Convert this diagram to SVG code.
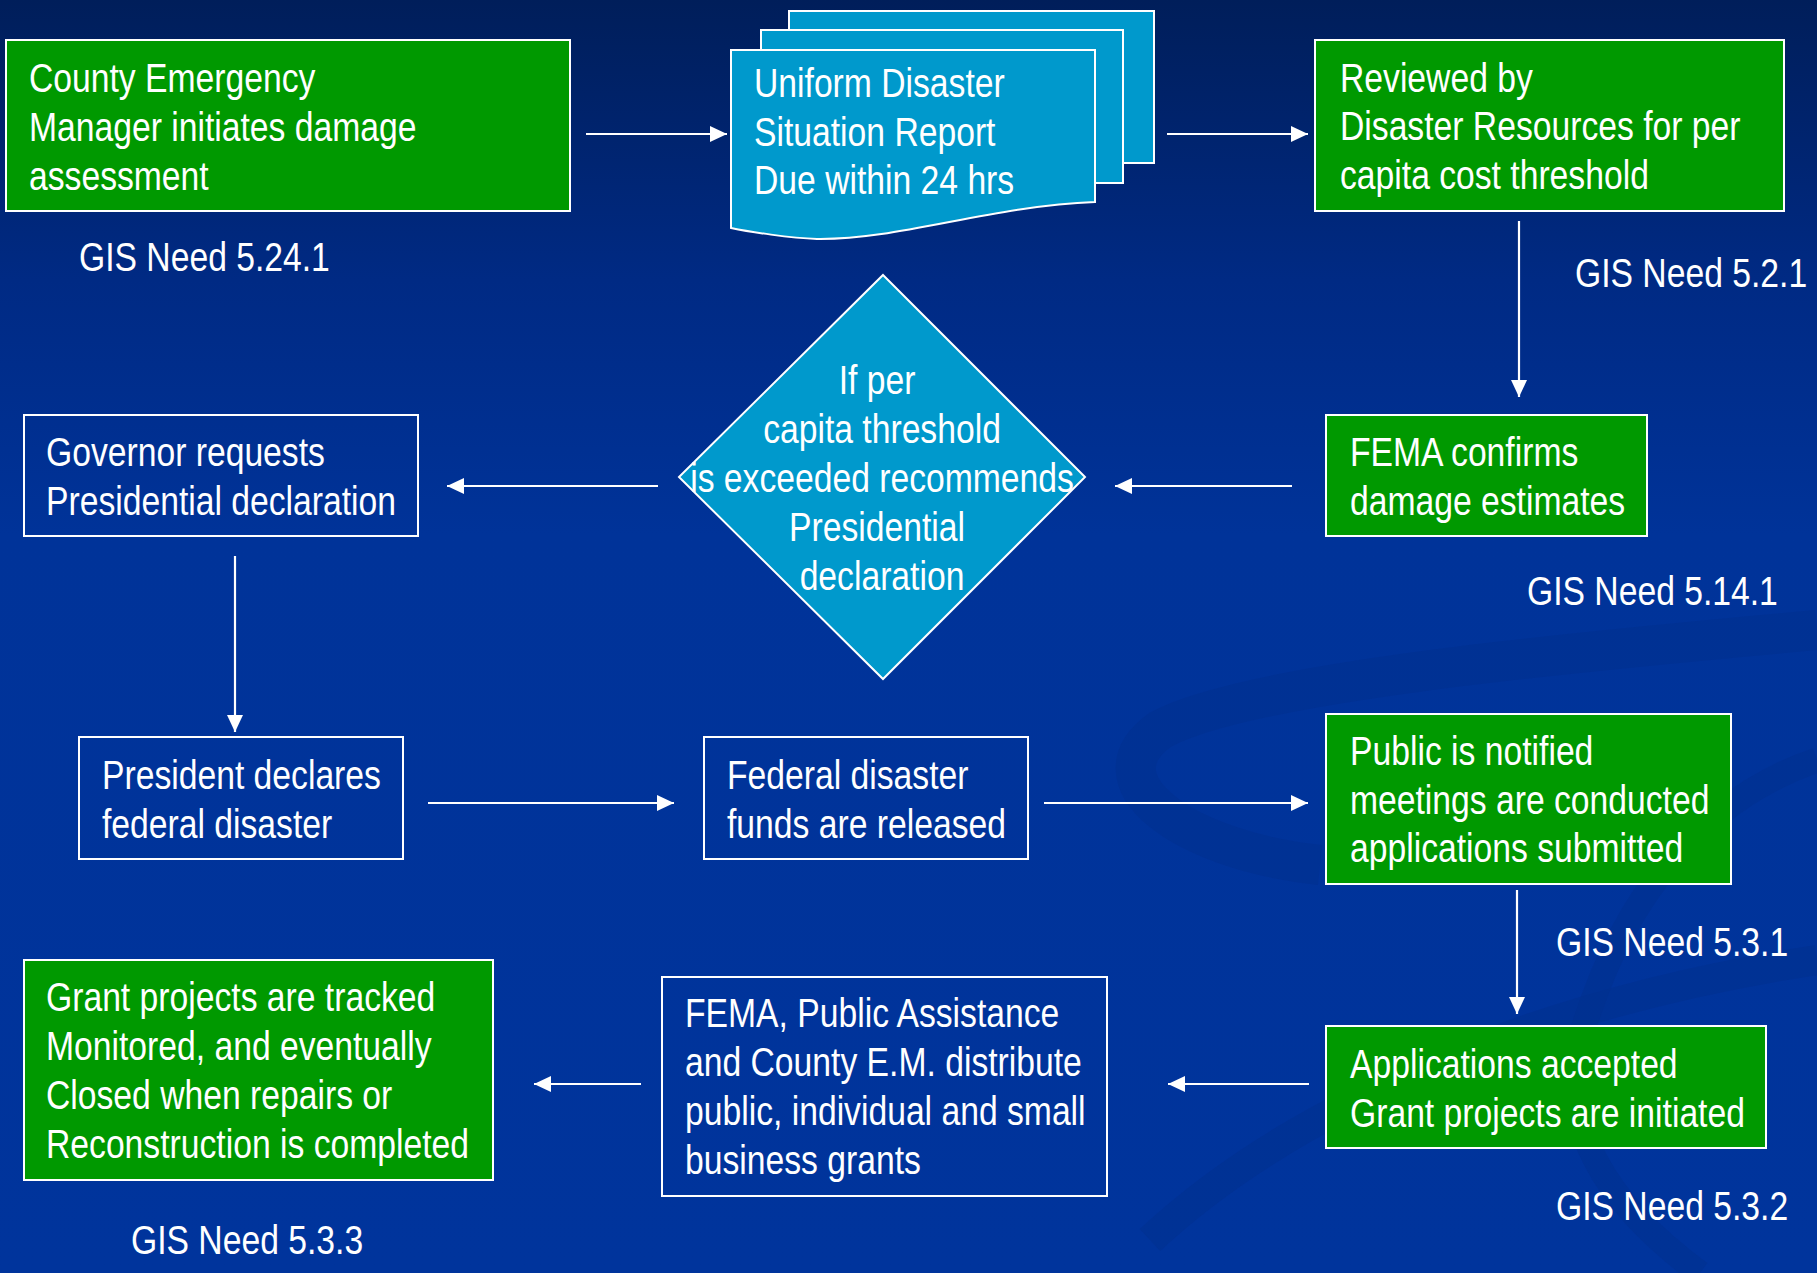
<svg xmlns="http://www.w3.org/2000/svg" width="1817" height="1273" viewBox="0 0 1817 1273">
  <defs>
    <linearGradient id="bg" x1="0" y1="0" x2="0" y2="1">
      <stop offset="0" stop-color="#001e5a"/>
      <stop offset="0.22" stop-color="#002a84"/>
      <stop offset="0.42" stop-color="#003399"/>
      <stop offset="1" stop-color="#00349c"/>
    </linearGradient>
    <marker id="head" viewBox="0 0 18 18" refX="17" refY="9" markerWidth="18" markerHeight="18" markerUnits="userSpaceOnUse" orient="auto">
      <path d="M0,1 L17,9 L0,17 Z" fill="#ffffff"/>
    </marker>
    <style>
      .lbl { font-family: "Liberation Sans", Arial, sans-serif; font-size: 40px; fill: #ffffff; }
      .mid { text-anchor: middle; }
      .green { fill: #009900; stroke: #ffffff; stroke-width: 2; }
      .open { fill: none; stroke: #ffffff; stroke-width: 2; }
      .doc { fill: #0099cc; stroke: #ffffff; stroke-width: 2; }
      .conn { stroke: #ffffff; stroke-width: 2.2; fill: none; marker-end: url(#head); }
      .swirl { fill: none; stroke: #002f8e; opacity: 0.5; }
    </style>
  </defs>

  <!-- background -->
  <rect x="0" y="0" width="1817" height="1273" fill="url(#bg)"/>
  <g id="backdrop">
    <path class="swirl" stroke-width="40" d="M1817,630 C1600,650 1250,680 1160,730 C1090,780 1180,850 1320,865"/>
    <path class="swirl" stroke-width="30" d="M1150,1240 C1300,1100 1550,1000 1817,960"/>
    <path class="swirl" stroke-width="25" d="M1817,760 C1700,800 1620,900 1580,1040 C1560,1120 1600,1200 1700,1273"/>
  </g>

  <!-- connectors -->
  <g id="connectors">
    <line class="conn" x1="586" y1="134" x2="727" y2="134"/>
    <line class="conn" x1="1167" y1="134" x2="1308" y2="134"/>
    <line class="conn" x1="1519" y1="221" x2="1519" y2="397"/>
    <line class="conn" x1="1292" y1="486" x2="1115" y2="486"/>
    <line class="conn" x1="658" y1="486" x2="447" y2="486"/>
    <line class="conn" x1="235" y1="556" x2="235" y2="732"/>
    <line class="conn" x1="428" y1="803" x2="674" y2="803"/>
    <line class="conn" x1="1044" y1="803" x2="1308" y2="803"/>
    <line class="conn" x1="1517" y1="890" x2="1517" y2="1014"/>
    <line class="conn" x1="1309" y1="1084" x2="1168" y2="1084"/>
    <line class="conn" x1="641" y1="1084" x2="534" y2="1084"/>
  </g>

  <!-- County Emergency Manager -->
  <g id="county">
    <rect class="green" x="6" y="40" width="564" height="171"/>
    <text class="lbl" transform="translate(29 92) scale(0.842 1)">County Emergency</text>
    <text class="lbl" transform="translate(29 141) scale(0.842 1)">Manager initiates damage</text>
    <text class="lbl" transform="translate(29 190) scale(0.842 1)">assessment</text>
  </g>
  <text id="gis-5-24-1" class="lbl" transform="translate(79 271) scale(0.842 1)">GIS Need 5.24.1</text>

  <!-- Uniform Disaster Situation Report (stacked document) -->
  <g id="report">
    <rect class="doc" x="789" y="11" width="365" height="152"/>
    <rect class="doc" x="761" y="30" width="362" height="153"/>
    <path class="doc" d="M731,50 H1095 V202 C990,206 900,240 817,239 C790,238 750,232 731,228 Z"/>
    <text class="lbl" transform="translate(754 97) scale(0.842 1)">Uniform Disaster</text>
    <text class="lbl" transform="translate(754 146) scale(0.842 1)">Situation Report</text>
    <text class="lbl" transform="translate(754 194) scale(0.842 1)">Due within 24 hrs</text>
  </g>

  <!-- Reviewed by Disaster Resources -->
  <g id="reviewed">
    <rect class="green" x="1315" y="40" width="469" height="171"/>
    <text class="lbl" transform="translate(1340 92) scale(0.842 1)">Reviewed by</text>
    <text class="lbl" transform="translate(1340 140) scale(0.842 1)">Disaster Resources for per</text>
    <text class="lbl" transform="translate(1340 189) scale(0.842 1)">capita cost threshold</text>
  </g>
  <text id="gis-5-2-1" class="lbl" transform="translate(1575 287) scale(0.842 1)">GIS Need 5.2.1</text>

  <!-- Decision -->
  <g id="decision">
    <path class="doc" d="M883,275 L1085,477 L883,679 L679,477 Z"/>
    <text class="lbl mid" transform="translate(877 394) scale(0.842 1)">If per</text>
    <text class="lbl mid" transform="translate(882 443) scale(0.842 1)">capita threshold</text>
    <text class="lbl mid" transform="translate(882 492) scale(0.842 1)">is exceeded recommends</text>
    <text class="lbl mid" transform="translate(877 541) scale(0.842 1)">Presidential</text>
    <text class="lbl mid" transform="translate(882 590) scale(0.842 1)">declaration</text>
  </g>

  <!-- FEMA confirms -->
  <g id="fema-confirms">
    <rect class="green" x="1326" y="415" width="321" height="121"/>
    <text class="lbl" transform="translate(1350 466) scale(0.842 1)">FEMA confirms</text>
    <text class="lbl" transform="translate(1350 515) scale(0.842 1)">damage estimates</text>
  </g>
  <text id="gis-5-14-1" class="lbl" transform="translate(1527 605) scale(0.842 1)">GIS Need 5.14.1</text>

  <!-- Governor requests -->
  <g id="governor">
    <rect class="open" x="24" y="415" width="394" height="121"/>
    <text class="lbl" transform="translate(46 466) scale(0.842 1)">Governor requests</text>
    <text class="lbl" transform="translate(46 515) scale(0.842 1)">Presidential declaration</text>
  </g>

  <!-- President declares -->
  <g id="president">
    <rect class="open" x="79" y="737" width="324" height="122"/>
    <text class="lbl" transform="translate(102 789) scale(0.842 1)">President declares</text>
    <text class="lbl" transform="translate(102 838) scale(0.842 1)">federal disaster</text>
  </g>

  <!-- Federal funds -->
  <g id="funds">
    <rect class="open" x="704" y="737" width="324" height="122"/>
    <text class="lbl" transform="translate(727 789) scale(0.842 1)">Federal disaster</text>
    <text class="lbl" transform="translate(727 838) scale(0.842 1)">funds are released</text>
  </g>

  <!-- Public notified -->
  <g id="public">
    <rect class="green" x="1326" y="714" width="405" height="170"/>
    <text class="lbl" transform="translate(1350 765) scale(0.842 1)">Public is notified</text>
    <text class="lbl" transform="translate(1350 814) scale(0.842 1)">meetings are conducted</text>
    <text class="lbl" transform="translate(1350 862) scale(0.842 1)">applications submitted</text>
  </g>
  <text id="gis-5-3-1" class="lbl" transform="translate(1556 956) scale(0.842 1)">GIS Need 5.3.1</text>

  <!-- Applications accepted -->
  <g id="applications">
    <rect class="green" x="1326" y="1026" width="440" height="122"/>
    <text class="lbl" transform="translate(1350 1078) scale(0.842 1)">Applications accepted</text>
    <text class="lbl" transform="translate(1350 1127) scale(0.842 1)">Grant projects are initiated</text>
  </g>
  <text id="gis-5-3-2" class="lbl" transform="translate(1556 1220) scale(0.842 1)">GIS Need 5.3.2</text>

  <!-- Grants distributed -->
  <g id="distribute">
    <rect class="open" x="662" y="977" width="445" height="219"/>
    <text class="lbl" transform="translate(685 1027) scale(0.842 1)">FEMA, Public Assistance</text>
    <text class="lbl" transform="translate(685 1076) scale(0.842 1)">and County E.M. distribute</text>
    <text class="lbl" transform="translate(685 1125) scale(0.842 1)">public, individual and small</text>
    <text class="lbl" transform="translate(685 1174) scale(0.842 1)">business grants</text>
  </g>

  <!-- Grant projects tracked -->
  <g id="tracked">
    <rect class="green" x="24" y="960" width="469" height="220"/>
    <text class="lbl" transform="translate(46 1011) scale(0.842 1)">Grant projects are tracked</text>
    <text class="lbl" transform="translate(46 1060) scale(0.842 1)">Monitored, and eventually</text>
    <text class="lbl" transform="translate(46 1109) scale(0.842 1)">Closed when repairs or</text>
    <text class="lbl" transform="translate(46 1158) scale(0.842 1)">Reconstruction is completed</text>
  </g>
  <text id="gis-5-3-3" class="lbl" transform="translate(131 1254) scale(0.842 1)">GIS Need 5.3.3</text>
</svg>
